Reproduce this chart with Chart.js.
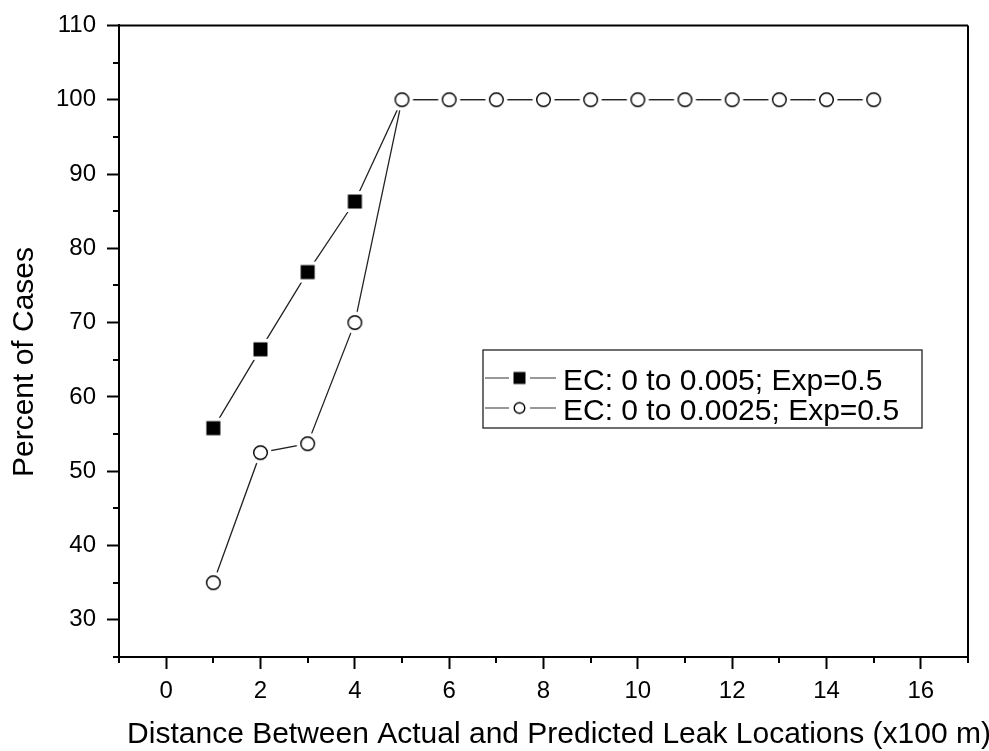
<!DOCTYPE html>
<html>
<head>
<meta charset="utf-8">
<script src="https://cdn.jsdelivr.net/npm/chart.js@4.4.1/dist/chart.umd.min.js"></script>
<style>
  html, body { margin: 0; padding: 0; background: #fff; }
  #wrap { width: 989px; height: 751px; }
</style>
</head>
<body>
<div id="wrap"><canvas id="chart" width="989" height="751"></canvas></div>
<script>
// data
var distances = [1, 2, 3, 4, 5, 6, 7, 8, 9, 10, 11, 12, 13, 14, 15];
var ec005 = [55.8, 66.4, 76.8, 86.3, 100, 100, 100, 100, 100, 100, 100, 100, 100, 100, 100];
var ec0025 = [35.0, 52.5, 53.7, 70.0, 100, 100, 100, 100, 100, 100, 100, 100, 100, 100, 100];
var seriesNames = ['EC: 0 to 0.005; Exp=0.5', 'EC: 0 to 0.0025; Exp=0.5'];
var xTicks = [0, 2, 4, 6, 8, 10, 12, 14, 16];
var xMinor = [-1, 1, 3, 5, 7, 9, 11, 13, 15, 17];
var yTicks = [30, 40, 50, 60, 70, 80, 90, 100, 110];
var yMinor = [25, 35, 45, 55, 65, 75, 85, 95, 105];
var xTitle = 'Distance Between Actual and Predicted Leak Locations (x100 m)';
var yTitle = 'Percent of Cases';

var FONT = "'Liberation Sans', Arial, Helvetica, sans-serif";

// marker images, a white halo so the joining lines stop short of the symbol
function marker(kind, size, halo) {
    var dim = Math.ceil(size + 2 * halo + 4);
    if (dim % 2 == 0) dim++;
    var c = document.createElement('canvas');
    c.width = dim; c.height = dim;
    var g = c.getContext('2d');
    var m = dim / 2;
    g.fillStyle = '#fff';
    if (kind == 'square') {
        g.fillRect(m - size / 2 - halo, m - size / 2 - halo, size + 2 * halo, size + 2 * halo);
        g.fillStyle = '#000';
        g.fillRect(m - size / 2, m - size / 2, size, size);
    } else {
        g.beginPath(); g.arc(m, m, size / 2 + halo, 0, Math.PI * 2); g.fill();
        g.beginPath(); g.arc(m, m, size / 2 - 0.7, 0, Math.PI * 2);
        g.fillStyle = '#fff'; g.fill();
        g.lineWidth = 1.4; g.strokeStyle = '#000'; g.stroke();
    }
    return c;
}
var sqBig = marker('square', 14, 3.5);
var ciBig = marker('circle', 15, 3.5);
var sqSmall = marker('square', 12, 0);
var ciSmall = marker('circle', 12, 0);

var frame = {
    id: 'frame',
    afterDraw: function(chart) {
        var ctx = chart.ctx, a = chart.chartArea;
        var xs = chart.scales.x, ys = chart.scales.y;
        ctx.save();
        ctx.strokeStyle = '#000';
        ctx.lineWidth = 2;
        ctx.beginPath();
        ctx.moveTo(a.left, a.top); ctx.lineTo(a.right, a.top);
        ctx.moveTo(a.right, a.top); ctx.lineTo(a.right, a.bottom);
        ctx.stroke();
        // minor ticks
        ctx.beginPath();
        xMinor.forEach(function(v) {
            var p = Math.round(xs.getPixelForValue(v));
            ctx.moveTo(p, a.bottom); ctx.lineTo(p, a.bottom + 6);
        });
        yMinor.forEach(function(v) {
            var p = Math.round(ys.getPixelForValue(v));
            ctx.moveTo(a.left, p); ctx.lineTo(a.left - 6, p);
        });
        ctx.stroke();

        // axis titles
        ctx.fillStyle = '#000';
        ctx.font = '30px ' + FONT;
        ctx.textAlign = 'center';
        ctx.textBaseline = 'alphabetic';
        ctx.fillText(xTitle, 559, 743);
        ctx.save();
        ctx.translate(33, 362);
        ctx.rotate(-Math.PI / 2);
        ctx.fillText(yTitle, 0, 0);
        ctx.restore();

        // legend
        var lx = 483, ly = 350, lw = 439, lh = 78;
        ctx.fillStyle = '#fff';
        ctx.fillRect(lx, ly, lw, lh);
        ctx.lineWidth = 1.3;
        ctx.strokeStyle = '#222';
        ctx.strokeRect(lx, ly, lw, lh);
        var rows = [378, 408];
        var imgs = [sqSmall, ciSmall];
        rows.forEach(function(ry, i) {
            ctx.beginPath();
            ctx.lineWidth = 1.2;
            ctx.strokeStyle = '#333';
            ctx.moveTo(485, ry); ctx.lineTo(509, ry);
            ctx.moveTo(530, ry); ctx.lineTo(556, ry);
            ctx.stroke();
            var im = imgs[i];
            ctx.drawImage(im, 519.5 - im.width / 2, ry - im.height / 2);
            ctx.fillStyle = '#000';
            ctx.font = '30px ' + FONT;
            ctx.textAlign = 'left';
            ctx.fillText(seriesNames[i], 563, ry + 12);
        });
        ctx.restore();
    }
};

var chart = new Chart(document.getElementById('chart'), {
    type: 'line',
    data: {
        labels: distances,
        datasets: [{
            label: seriesNames[0],
            data: distances.map(function(d, i) { return {x: d, y: ec005[i]}; }),
            borderColor: '#222',
            borderWidth: 1.3,
            pointStyle: sqBig,
            pointRadius: 7,
            order: 2
        }, {
            label: seriesNames[1],
            data: distances.map(function(d, i) { return {x: d, y: ec0025[i]}; }),
            borderColor: '#222',
            borderWidth: 1.3,
            pointStyle: ciBig,
            pointRadius: 7,
            order: 1
        }]
    },
    options: {
        responsive: false,
        animation: false,
        layout: { padding: { top: 25, right: 21, left: 0, bottom: 0 } },
        plugins: { legend: { display: false }, tooltip: { enabled: false } },
        scales: {
            x: {
                type: 'linear',
                min: -1, max: 17,
                afterBuildTicks: function(s) { s.ticks = xTicks.map(function(v) { return {value: v}; }); },
                afterFit: function(s) { s.height = 94; },
                grid: { drawOnChartArea: false, tickLength: 12, tickWidth: 2, tickColor: '#000' },
                border: { color: '#000', width: 2 },
                ticks: { color: '#000', font: { family: FONT, size: 24 }, padding: 8, maxRotation: 0, autoSkip: false }
            },
            y: {
                type: 'linear',
                min: 25, max: 110,
                afterBuildTicks: function(s) { s.ticks = yTicks.map(function(v) { return {value: v}; }); },
                afterFit: function(s) { s.width = 119; },
                grid: { drawOnChartArea: false, tickLength: 12, tickWidth: 2, tickColor: '#000' },
                border: { color: '#000', width: 2 },
                ticks: { color: '#000', font: { family: FONT, size: 24 }, padding: 11, autoSkip: false }
            }
        }
    },
    plugins: [frame]
});
</script>
</body>
</html>
